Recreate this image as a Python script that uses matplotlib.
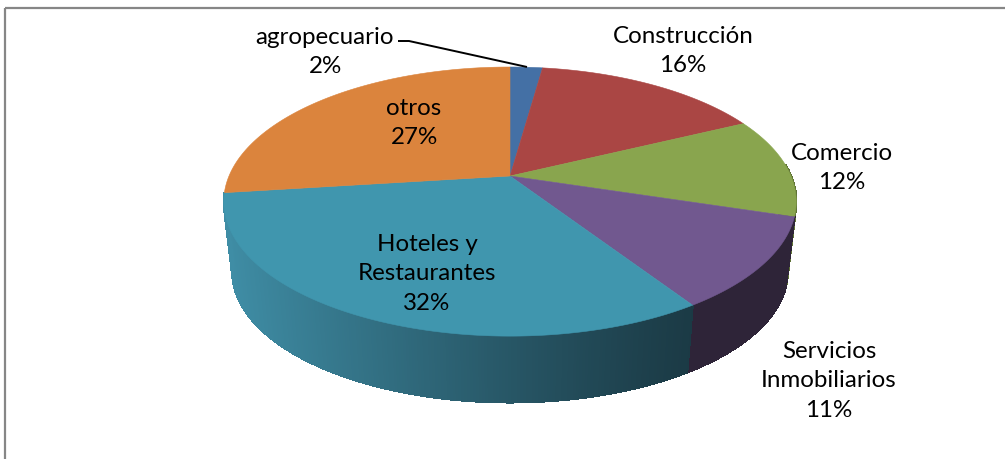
import numpy as np
import matplotlib
matplotlib.use("Agg")
import matplotlib.pyplot as plt
from matplotlib.patches import Polygon
from matplotlib.collections import PolyCollection
from matplotlib.colors import to_rgb

# data
categories = ["agropecuario", "Construcción", "Comercio", "Servicios\nInmobiliarios", "Hoteles y\nRestaurantes", "otros"]
values = [2.2, 15.6, 12.0, 11.0, 32.2, 27.0]
colors = ["#4470A5", "#AA4644", "#89A54E", "#71588F", "#4096AE", "#DB843D"]
wall_left = ["#2F4E73", "#773130", "#5F7336", "#2E2438", "#3F8DA5", "#3F8DA5"]
wall_right = ["#2F4E73", "#773130", "#5F7336", "#2E2438", "#1B3A45", "#3F8DA5"]

# layout: label centres in pixels
label_pos = [(325, 52), (683, 51), (842, 168), (829, 381), (427, 274), (414, 123)]
CX, CY = 510, 177
BX, C, A = 281, 0.19, 129.7
SCALE, BOT_Y = 0.97, 248

fig = plt.figure(figsize=(10.05, 4.6), dpi=100, facecolor="white")
ax = fig.add_axes([0, 0, 1, 1])
ax.set_xlim(0, 1005)
ax.set_ylim(460, 0)
ax.axis("off")


def rim(theta_deg, scale=1.0, y0=CY):
    t = np.radians(theta_deg)
    u, v = np.sin(t), np.cos(t)
    d = 1 + C * v
    return CX + scale * BX * u / d, y0 - scale * A * v / d


edges = np.concatenate([[0], np.cumsum(values)]) * 3.6

# side wall (front part only, the top face hides everything else)
for i in range(len(values) - 1):
    a0, a1 = max(edges[i], 85), min(edges[i + 1], 275)
    if a1 <= a0:
        continue
    th = np.linspace(a0, a1, max(int((a1 - a0) * 2), 2) + 1)
    xt, yt = rim(th)
    xb, yb = rim(th, SCALE, BOT_Y)
    quads, cols = [], []
    c_l, c_r = np.array(to_rgb(wall_left[i])), np.array(to_rgb(wall_right[i]))
    for j in range(len(th) - 1):
        quads.append([(xt[j], yt[j]), (xt[j + 1], yt[j + 1]), (xb[j + 1], yb[j + 1]), (xb[j], yb[j])])
        f = np.clip((690 - (xb[j] + xb[j + 1]) / 2) / (690 - 232), 0, 1)
        # f = 1 at the left end, f = 0 at the right end
        cols.append(c_r + (c_l - c_r) * f ** 1.15)
    ax.add_collection(PolyCollection(quads, facecolors=cols, edgecolors=cols, linewidths=1.0,
                                     antialiaseds=False, zorder=2))

# top face
for i in range(len(values)):
    th = np.linspace(edges[i], edges[i + 1], 200)
    xt, yt = rim(th)
    pts = np.column_stack([np.r_[CX, xt], np.r_[CY, yt]])
    ax.add_patch(Polygon(pts, closed=True, facecolor=colors[i], edgecolor=colors[i], linewidth=0.4, zorder=3))

# labels
for name, val, (x, y) in zip(categories, values, label_pos):
    ax.text(x, y, f"{name}\n{round(val)}%", ha="center", va="center", family="Lato", fontsize=17.4,
            color="black", linespacing=1.51, zorder=5)

# leader line
ax.plot([398, 409, 527], [42, 42, 68], color="black", lw=1.4, zorder=4, solid_capstyle="butt")

# chart frame
ax.plot([5, 5], [460, 8.5], color="#868686", lw=1.6, zorder=1, solid_capstyle="butt")
ax.plot([5, 1005], [8.5, 8.5], color="#868686", lw=1.6, zorder=1, solid_capstyle="butt")

fig.savefig("out.png", dpi=100)
